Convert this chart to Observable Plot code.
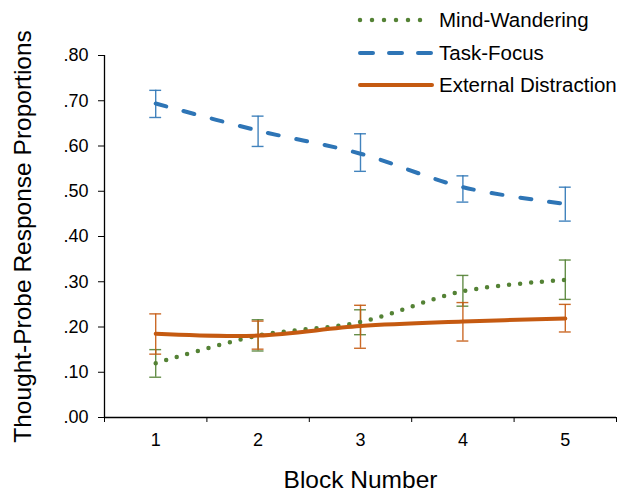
<!DOCTYPE html>
<html>
<head>
<meta charset="utf-8">
<script src="https://cdn.jsdelivr.net/npm/d3@7"></script>
<script src="https://cdn.jsdelivr.net/npm/@observablehq/plot@0.6"></script>
<style>
  html, body { margin: 0; padding: 0; background: #fff; }
  #wrap { position: relative; width: 630px; height: 493px; font-family: "Liberation Sans", Arial, sans-serif; }
  #legend { position: absolute; left: 356px; top: 4px; }
  .row { display: flex; align-items: center; height: 32.5px; font-size: 20.5px; color: #000; white-space: nowrap; }
  .row svg { margin-right: 3px; }
</style>
</head>
<body>
<div id="wrap"><div id="legend"></div></div>
<script>
const blocks = [1, 2, 3, 4, 5];
const seriesNames = ["Mind-Wandering", "Task-Focus", "External Distraction"];
const colors = ["#548235", "#2E75B6", "#C55A11"];

const mindWandering = [0.120, 0.181, 0.211, 0.279, 0.304];
const mindWanderingLow = [0.089, 0.147, 0.183, 0.246, 0.261];
const mindWanderingHigh = [0.150, 0.216, 0.238, 0.314, 0.348];

const taskFocus = [0.694, 0.634, 0.583, 0.509, 0.472];
const taskFocusLow = [0.663, 0.599, 0.544, 0.476, 0.434];
const taskFocusHigh = [0.723, 0.666, 0.627, 0.534, 0.509];

const externalDistraction = [0.185, 0.181, 0.202, 0.212, 0.219];
const externalDistractionLow = [0.140, 0.151, 0.153, 0.169, 0.189];
const externalDistractionHigh = [0.229, 0.213, 0.248, 0.254, 0.250];

const yTicks = [0, 0.1, 0.2, 0.3, 0.4, 0.5, 0.6, 0.7, 0.8];

function rows(vals, lo, hi, name) {
  return blocks.map((b, i) => ({block: b, value: vals[i], low: lo[i], high: hi[i], series: name}));
}
const mw = rows(mindWandering, mindWanderingLow, mindWanderingHigh, seriesNames[0]);
const tf = rows(taskFocus, taskFocusLow, taskFocusHigh, seriesNames[1]);
const ed = rows(externalDistraction, externalDistractionLow, externalDistractionHigh, seriesNames[2]);

const cap = 0.058;
const fmt = d => d3.format(".2f")(d).replace(/^0/, "");
const boundaries = d3.range(blocks.length + 1).map(i => i + 0.5);

const errMarks = (data, c) => [
  Plot.ruleX(data, {x: "block", y1: "low", y2: "high", stroke: c, strokeWidth: 1.4, strokeOpacity: 0.9}),
  Plot.ruleY(data, {y: "low", x1: d => d.block - cap, x2: d => d.block + cap, stroke: c, strokeWidth: 1.4, strokeOpacity: 0.9}),
  Plot.ruleY(data, {y: "high", x1: d => d.block - cap, x2: d => d.block + cap, stroke: c, strokeWidth: 1.4, strokeOpacity: 0.9})
];

const chart = Plot.plot({
  width: 630,
  height: 493,
  marginLeft: 104,
  marginRight: 14,
  marginTop: 55,
  marginBottom: 76,
  style: {fontFamily: "Liberation Sans, Arial, sans-serif", fontSize: "18px", color: "#000", background: "transparent"},
  x: {domain: [0.5, blocks.length + 0.5]},
  y: {domain: [0, 0.8]},
  marks: [
    Plot.axisY({ticks: yTicks, tickFormat: fmt, tickSize: 6, tickPadding: 10, fontSize: 18, label: "Thought-Probe Response Proportions", labelAnchor: "center", labelArrow: "none", labelOffset: 91}),
    Plot.axisX({ticks: boundaries, tickFormat: () => "", tickSize: 5, label: null}),
    Plot.axisX({ticks: blocks, tickFormat: d => String(d), tickSize: 0, tickPadding: 16, fontSize: 18, label: "Block Number", labelAnchor: "center", labelArrow: "none", labelOffset: 70}),
    Plot.ruleX([0.5], {stroke: "#000", strokeWidth: 1.3}),
    Plot.ruleY([0], {stroke: "#000", strokeWidth: 1.3}),
    ...errMarks(mw, colors[0]),
    ...errMarks(tf, colors[1]),
    ...errMarks(ed, colors[2]),
    Plot.line(mw, {x: "block", y: "value", stroke: colors[0], strokeWidth: 4.5, strokeDasharray: "0 11", strokeLinecap: "round", curve: "catmull-rom"}),
    Plot.line(tf, {x: "block", y: "value", stroke: colors[1], strokeWidth: 4, strokeDasharray: "11 18", strokeLinecap: "round", curve: "catmull-rom"}),
    Plot.line(ed, {x: "block", y: "value", stroke: colors[2], strokeWidth: 4, strokeLinecap: "round", curve: "catmull-rom"})
  ]
});
chart.querySelectorAll("text").forEach(t => {
  if (t.textContent === "Thought-Probe Response Proportions" || t.textContent === "Block Number") {
    t.setAttribute("font-size", "24.5");
    t.style.fontSize = "24.5px";
  }
});
document.getElementById("wrap").prepend(chart);

const dashes = ["0 12", "13 16", null];
const legend = document.getElementById("legend");
seriesNames.forEach((name, i) => {
  const row = document.createElement("div");
  row.className = "row";
  const dash = dashes[i] ? `stroke-dasharray="${dashes[i]}"` : "";
  const sw = i === 0 ? 4.5 : 4;
  row.innerHTML = `<svg width="80" height="10"><line x1="4" y1="5" x2="76" y2="5" stroke="${colors[i]}" stroke-width="${sw}" stroke-linecap="round" ${dash}/></svg><span>${name}</span>`;
  legend.appendChild(row);
});
</script>
</body>
</html>
